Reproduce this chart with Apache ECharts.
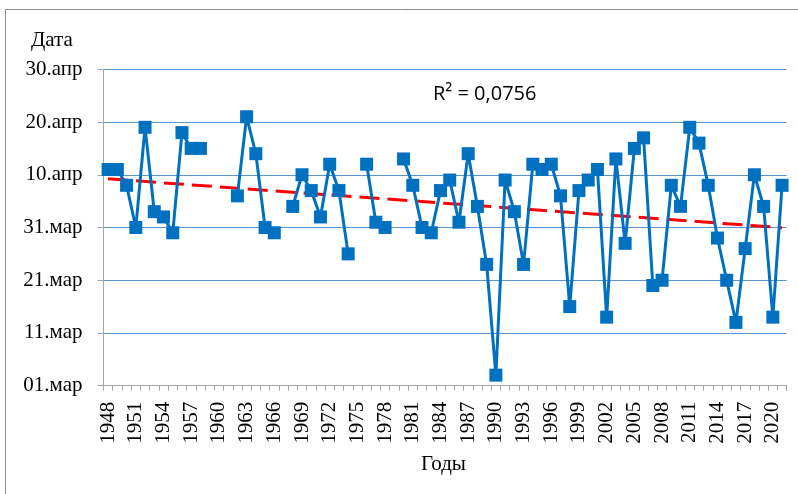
<!DOCTYPE html>
<html><head><meta charset="utf-8">
<script src="https://cdn.jsdelivr.net/npm/echarts@6/dist/echarts.min.js"></script>
<style>html,body{margin:0;padding:0;background:#fff}#c{width:798px;height:494px}</style>
</head><body><div id="c"></div>
<script>
const years = [1948,1949,1950,1951,1952,1953,1954,1955,1956,1957,1958,1959,1960,1961,1962,1963,1964,1965,1966,1967,1968,1969,1970,1971,1972,1973,1974,1975,1976,1977,1978,1979,1980,1981,1982,1983,1984,1985,1986,1987,1988,1989,1990,1991,1992,1993,1994,1995,1996,1997,1998,1999,2000,2001,2002,2003,2004,2005,2006,2007,2008,2009,2010,2011,2012,2013,2014,2015,2016,2017,2018,2019,2020,2021];
// days after 01.мар (0 = 01.мар, 30 = 31.мар, 40 = 10.апр)
const dates = [41,41,38,30,49,33,32,29,48,45,45,null,null,null,36,51,44,30,29,null,34,40,37,32,42,37,25,null,42,31,30,null,43,38,30,29,37,39,31,44,34,23,2,39,33,23,42,41,42,36,15,37,39,41,13,43,27,45,47,19,20,38,34,49,46,38,28,20,12,26,40,34,13,38];
const yTickLabels = ['01.мар','11.мар','21.мар','31.мар','10.апр','20.апр','30.апр'];
const r2Text = 'R² = 0,0756';

// linear trend (least squares over x = 1..n, skipping gaps)
let n=0,sx=0,sy=0,sxx=0,sxy=0;
dates.forEach((v,i)=>{ if(v!==null){const x=i+1;n++;sx+=x;sy+=v;sxx+=x*x;sxy+=x*v;} });
const slope=(n*sxy-sx*sy)/(n*sxx-sx*sx);
const icpt=(sy-slope*sx)/n;
const trend = dates.map((v,i)=> (i===0||i===dates.length-1) ? icpt+slope*(i+1) : null);

const chart = echarts.init(document.getElementById('c'));
const serif = '"Liberation Serif","Times New Roman",serif';
chart.setOption({
  animation:false,
  grid:{left:103.5,right:11.3,top:69.3,bottom:108.3},
  xAxis:{type:'category',data:years,boundaryGap:true,
    axisLine:{lineStyle:{color:'#a6a6a6',width:1}},
    axisTick:{show:true,interval:0,length:5,lineStyle:{color:'#a6a6a6'}},
    axisLabel:{interval:2,rotate:90,fontFamily:serif,fontSize:21,color:'#000',margin:16},
    splitLine:{show:false}},
  yAxis:{type:'value',min:0,max:60,interval:10,
    axisLine:{show:true,lineStyle:{color:'#a6a6a6'}},
    axisTick:{show:true,length:6,lineStyle:{color:'#a6a6a6'}},
    axisLabel:{formatter:v=>yTickLabels[Math.round(v/10)],fontFamily:serif,fontSize:21,color:'#000',margin:21},
    splitLine:{show:true,lineStyle:{color:'#5b93cc',width:1}}},
  graphic:[
    {type:'line',shape:{x1:5,y1:9.5,x2:798,y2:9.5},style:{stroke:'#8c8c8c',lineWidth:1}},
    {type:'line',shape:{x1:5.5,y1:9,x2:5.5,y2:494},style:{stroke:'#8c8c8c',lineWidth:1}},
    {type:'text',left:31,top:30,style:{text:'Дата',font:'21px '+serif,fill:'#000'}},
    {type:'text',left:421,top:454,style:{text:'Годы',font:'21px '+serif,fill:'#000'}},
    {type:'text',left:433,top:84,style:{text:r2Text,font:'20px "Open Sans",sans-serif',fill:'#000'}}
  ],
  series:[
    {type:'line',data:dates,connectNulls:false,showAllSymbol:true,symbol:'rect',symbolSize:13,
      lineStyle:{color:'#0070c0',width:3},itemStyle:{color:'#0070c0'},z:3},
    {type:'line',data:trend,connectNulls:true,symbol:'none',
      lineStyle:{color:'#ff0000',width:3,type:[20,8]},z:2}
  ]
});
</script></body></html>
